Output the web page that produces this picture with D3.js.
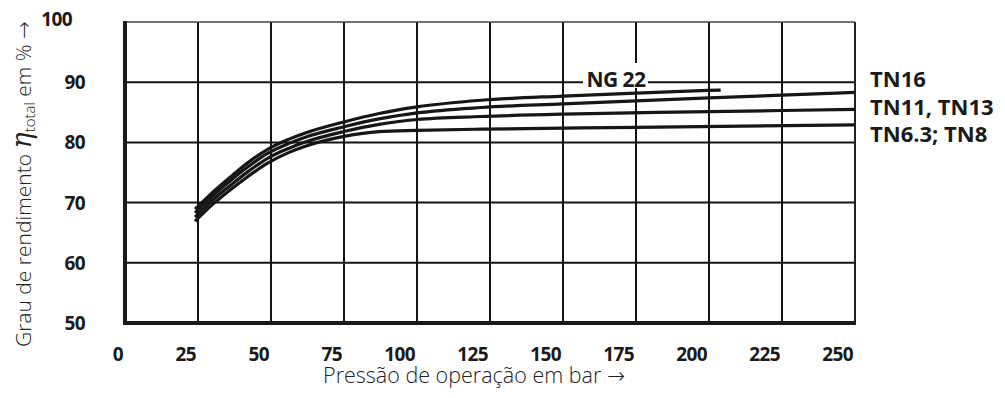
<!DOCTYPE html>
<html>
<head>
<meta charset="utf-8">
<script src="https://cdn.jsdelivr.net/npm/d3@7"></script>
<style>
  html, body { margin: 0; padding: 0; background: #fff; }
  svg { display: block; font-family: "Open Sans", "DejaVu Sans", sans-serif; }
</style>
</head>
<body>
<svg id="chart" width="1005" height="398"></svg>
<script>
// Efficiency curves: [operating pressure in bar, total efficiency in %]
const ng22 = [[24, 68.9], [30, 71.7], [36, 74.2], [42, 76.6], [49, 78.9], [56, 80.5], [62, 81.6], [75, 83.4], [87, 84.8], [100, 85.9], [122, 87.0], [150, 87.7], [175, 88.2], [204, 88.7]];
const tn16 = [[24, 68.3], [30, 71.1], [36, 73.6], [42, 75.9], [49, 78.2], [56, 79.8], [62, 80.9], [75, 82.6], [87, 83.9], [100, 84.9], [122, 85.8], [150, 86.4], [200, 87.4], [250, 88.3]];
const tn11_13 = [[24, 67.6], [30, 70.4], [36, 72.8], [42, 75.1], [49, 77.4], [56, 79.0], [62, 80.1], [75, 81.8], [87, 83.0], [100, 83.8], [122, 84.3], [150, 84.7], [200, 85.1], [250, 85.5]];
const tn63_8 = [[24, 66.9], [30, 69.7], [36, 72.1], [42, 74.3], [49, 76.6], [56, 78.3], [62, 79.4], [75, 81.0], [87, 81.8], [100, 82.0], [122, 82.2], [175, 82.5], [250, 82.9]];

const curveNames = ["NG 22", "TN16", "TN11, TN13", "TN6.3; TN8"];
const xTicks = [0, 25, 50, 75, 100, 125, 150, 175, 200, 225, 250];
const yTicks = [50, 60, 70, 80, 90, 100];

const svg = d3.select("#chart");
const plotL = 125, plotR = 855, plotT = 22, plotB = 323;

const x = d3.scaleLinear().domain([0, 250]).range([plotL, plotR]);
const y = d3.scaleLinear().domain([50, 100]).range([plotB, plotT]);

// grid
const grid = svg.append("g").attr("stroke", "#141414").attr("stroke-width", 2);
grid.selectAll("line.v").data(xTicks.filter(d => d > 0 && d < 250)).join("line")
  .attr("class", "v")
  .attr("x1", d => x(d)).attr("x2", d => x(d))
  .attr("y1", plotT).attr("y2", plotB);
grid.selectAll("line.h").data(yTicks.filter(d => d > 50 && d < 100)).join("line")
  .attr("class", "h")
  .attr("x1", plotL).attr("x2", plotR)
  .attr("y1", d => y(d)).attr("y2", d => y(d));

// frame: thin top and right, heavy left and bottom axes
svg.append("line").attr("x1", plotL).attr("x2", plotR).attr("y1", plotT).attr("y2", plotT)
  .attr("stroke", "#444").attr("stroke-width", 1.5);
svg.append("line").attr("x1", plotR).attr("x2", plotR).attr("y1", plotT).attr("y2", plotB)
  .attr("stroke", "#222").attr("stroke-width", 2);
svg.append("line").attr("x1", plotL).attr("x2", plotL).attr("y1", plotT - 1).attr("y2", plotB + 2)
  .attr("stroke", "#1a1a1a").attr("stroke-width", 4);
svg.append("line").attr("x1", plotL - 2).attr("x2", plotR + 1).attr("y1", plotB).attr("y2", plotB)
  .attr("stroke", "#1a1a1a").attr("stroke-width", 4);

// curves
const line = d3.line().x(d => x(d[0])).y(d => y(d[1])).curve(d3.curveMonotoneX);
const series = [ng22, tn16, tn11_13, tn63_8];
svg.append("g").selectAll("path").data(series).join("path")
  .attr("d", line)
  .attr("fill", "none")
  .attr("stroke", "#161616")
  .attr("stroke-width", 3.2)
  .attr("stroke-linecap", "butt");

// NG 22 label over the grid
const ngLabel = svg.append("g");
ngLabel.append("rect").attr("x", 583).attr("y", 63).attr("width", 65).attr("height", 25).attr("fill", "#fff");
ngLabel.append("text").attr("x", 616).attr("y", 87)
  .attr("text-anchor", "middle").attr("font-size", 21).attr("font-weight", 700)
  .attr("letter-spacing", -0.5)
  .attr("fill", "#1a1a1a").text(curveNames[0]);

// right-hand series labels
const rightLabels = svg.append("g").attr("font-size", 22).attr("font-weight", 700).attr("fill", "#1a1a1a");
[[curveNames[1], 87], [curveNames[2], 115], [curveNames[3], 142]].forEach(([t, by]) => {
  rightLabels.append("text").attr("x", 870).attr("y", by).text(t);
});

// x tick labels, right-aligned to grid lines
svg.append("g").attr("font-size", 19).attr("font-weight", 700).attr("fill", "#1a1a1a")
  .attr("letter-spacing", -0.6)
  .selectAll("text").data(xTicks).join("text")
  .attr("x", d => x(d) - 2).attr("y", 361)
  .attr("text-anchor", "end")
  .text(d => d);

// y tick labels
svg.append("g").attr("font-size", 19).attr("font-weight", 700).attr("fill", "#1a1a1a")
  .attr("letter-spacing", -0.6)
  .selectAll("text").data(yTicks).join("text")
  .attr("x", d => d === 100 ? 72 : 85)
  .attr("y", d => d === 100 ? 26 : y(d) + 7)
  .attr("text-anchor", "end")
  .text(d => d);

// axis titles
svg.append("text").attr("x", 474).attr("y", 383).attr("text-anchor", "middle")
  .attr("font-size", 21.5).attr("font-weight", 300).attr("fill", "#222")
  .text("Pressão de operação em bar \u2192");

const yt = svg.append("text")
  .attr("transform", "translate(31,347) rotate(-90)")
  .attr("font-size", 21).attr("font-weight", 300).attr("fill", "#222");
yt.append("tspan").text("Grau de rendimento ");
yt.append("tspan").attr("font-style", "italic").attr("font-size", 27).attr("font-family", "DejaVu Serif, serif").text("\u03b7");
yt.append("tspan").attr("font-size", 15).attr("dy", 4).text("total");
yt.append("tspan").attr("dy", -4).text(" em % \u2192");
</script>
</body>
</html>
